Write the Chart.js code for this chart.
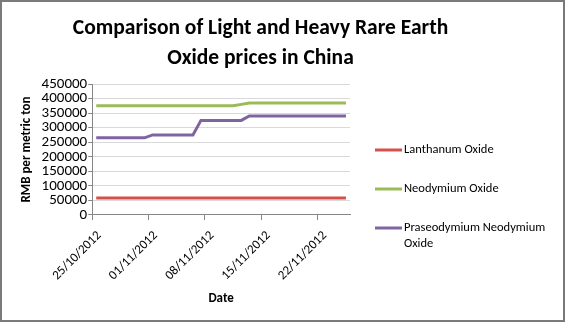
<!DOCTYPE html>
<html>
<head>
<meta charset="utf-8">
<title>Rare Earth Oxide prices in China</title>
<script src="https://cdn.jsdelivr.net/npm/chart.js@4.4.0/dist/chart.umd.min.js"></script>
<style>
  body { margin: 0; background: #fff; }
  #wrap { width: 565px; height: 322px; position: relative; }
</style>
</head>
<body>
<div id="wrap"><canvas id="priceChart"></canvas></div>
<script>
// daily price quotes, RMB per metric ton
const dates = [
  '25/10/2012', '26/10/2012', '27/10/2012', '28/10/2012', '29/10/2012', '30/10/2012', '31/10/2012',
  '01/11/2012', '02/11/2012', '03/11/2012', '04/11/2012', '05/11/2012', '06/11/2012', '07/11/2012',
  '08/11/2012', '09/11/2012', '10/11/2012', '11/11/2012', '12/11/2012', '13/11/2012', '14/11/2012',
  '15/11/2012', '16/11/2012', '17/11/2012', '18/11/2012', '19/11/2012', '20/11/2012', '21/11/2012',
  '22/11/2012', '23/11/2012', '24/11/2012', '25/11/2012'
];

const lanthanum = [
  58000, 58000, 58000, 58000, 58000, 58000, 58000,
  58000, 58000, 58000, 58000, 58000, 58000, 58000,
  58000, 58000, 58000, 58000, 58000, 58000, 58000,
  58000, 58000, 58000, 58000, 58000, 58000, 58000,
  58000, 58000, 58000, 58000
];

const neodymium = [
  375000, 375000, 375000, 375000, 375000, 375000, 375000,
  375000, 375000, 375000, 375000, 375000, 375000, 375000,
  375000, 375000, 375000, 375000, 380000, 385000, 385000,
  385000, 385000, 385000, 385000, 385000, 385000, 385000,
  385000, 385000, 385000, 385000
];

const praseoNeodymium = [
  265000, 265000, 265000, 265000, 265000, 265000, 265000,
  275000, 275000, 275000, 275000, 275000, 275000, 325000,
  325000, 325000, 325000, 325000, 325000, 340000, 340000,
  340000, 340000, 340000, 340000, 340000, 340000, 340000,
  340000, 340000, 340000, 340000
];

const seriesNames = ['Lanthanum Oxide', 'Neodymium Oxide', 'Praseodymium Neodymium Oxide'];
const seriesColors = ['#D4504C', '#9BBB59', '#8064A2'];
const titleLines = ['Comparison of Light and Heavy Rare Earth', 'Oxide prices in China'];
const yMax = 450000;
const yStep = 50000;
const labelEvery = 7; // one date label per week

const FONT = 'Carlito, Lato, sans-serif';
const axisGrey = '#868686';

// title, legend and outer frame are drawn by hand, Excel style
const excelFrame = {
  id: 'excelFrame',
  beforeDraw(chart) {
    const ctx = chart.ctx;
    ctx.save();
    ctx.fillStyle = '#fff';
    ctx.fillRect(0, 0, chart.width, chart.height);
    ctx.restore();
  },
  afterDraw(chart) {
    const ctx = chart.ctx;
    const area = chart.chartArea;
    ctx.save();

    ctx.fillStyle = '#000';
    ctx.font = 'bold 21.5px ' + FONT;
    ctx.textAlign = 'center';
    ctx.textBaseline = 'alphabetic';
    titleLines.forEach((line, i) => ctx.fillText(line, 260.5, 34 + i * 30));

    // legend to the right of the plot
    ctx.font = '12.5px ' + FONT;
    ctx.textAlign = 'left';
    ctx.textBaseline = 'middle';
    const x0 = area.right + 25;
    const textX = x0 + 29;
    const maxW = chart.width - textX - 10;
    chart.data.datasets.forEach((ds, i) => {
      const y = area.top + 66 + i * 39;
      ctx.strokeStyle = ds.borderColor;
      ctx.lineWidth = 3;
      ctx.beginPath();
      ctx.moveTo(x0, y);
      ctx.lineTo(x0 + 27, y);
      ctx.stroke();
      // wrap long names onto a second line
      const words = ds.label.split(' ');
      const lines = [];
      let cur = '';
      words.forEach(w => {
        const test = cur ? cur + ' ' + w : w;
        if (cur && ctx.measureText(test).width > maxW) {
          lines.push(cur);
          cur = w;
        } else {
          cur = test;
        }
      });
      lines.push(cur);
      ctx.fillStyle = '#000';
      lines.forEach((l, j) => ctx.fillText(l, textX, y + j * 15.5));
    });

    ctx.strokeStyle = '#7a7a7a';
    ctx.lineWidth = 2;
    ctx.strokeRect(1, 1, chart.width - 2, chart.height - 2);
    ctx.restore();
  }
};

new Chart(document.getElementById('priceChart'), {
  type: 'line',
  data: {
    labels: dates,
    datasets: [
      { label: seriesNames[0], data: lanthanum, borderColor: seriesColors[0] },
      { label: seriesNames[1], data: neodymium, borderColor: seriesColors[1] },
      { label: seriesNames[2], data: praseoNeodymium, borderColor: seriesColors[2] }
    ]
  },
  options: {
    responsive: true,
    maintainAspectRatio: false,
    animation: false,
    layout: { padding: { top: 84, right: 215, bottom: 10, left: 19 } },
    elements: {
      point: { radius: 0 },
      line: { borderWidth: 3, tension: 0, fill: false }
    },
    plugins: {
      legend: { display: false },
      title: { display: false },
      tooltip: { enabled: false }
    },
    scales: {
      x: {
        type: 'category',
        offset: true,
        grid: {
          offset: true,
          drawOnChartArea: false,
          tickLength: 5,
          tickColor: (c) => (c.index % labelEvery === 0 ? axisGrey : 'rgba(0,0,0,0)')
        },
        border: { color: axisGrey },
        ticks: {
          autoSkip: false,
          minRotation: 45,
          maxRotation: 45,
          padding: 8,
          labelOffset: 3,
          color: '#000',
          font: { family: FONT, size: 13 },
          callback: (v, i) => (i % labelEvery === 0 ? dates[i] : '')
        },
        title: {
          display: true,
          text: 'Date',
          color: '#000',
          font: { family: FONT, size: 13, weight: 'bold' },
          padding: { top: 0, bottom: 5 }
        }
      },
      y: {
        min: 0,
        max: yMax,
        ticks: {
          stepSize: yStep,
          autoSkip: false,
          padding: 1,
          color: '#000',
          font: { family: FONT, size: 15 },
          callback: (v) => String(v)
        },
        grid: { color: '#d9d9d9', tickColor: axisGrey, tickLength: 4 },
        border: { color: axisGrey },
        title: {
          display: true,
          text: 'RMB per metric ton',
          color: '#000',
          font: { family: FONT, size: 13, weight: 'bold' },
          padding: { top: 0, bottom: 6 }
        }
      }
    }
  },
  plugins: [excelFrame]
});
</script>
</body>
</html>
